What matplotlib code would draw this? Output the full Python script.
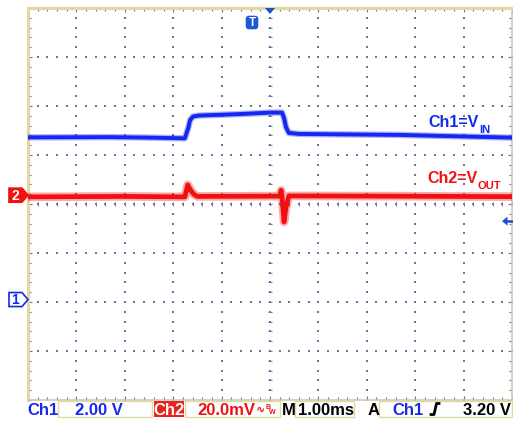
import numpy as np
import matplotlib.pyplot as plt
from matplotlib.patches import Polygon, Rectangle, FancyBboxPatch
from matplotlib.lines import Line2D

# -------------------------------
# scope settings
# -------------------------------
W, H = 513, 421
ch1_scale = 2.00      # V/div
ch1_ground = -1.95    # div from centre
ch2_scale = 20.0      # mV/div
ch2_offset = 0.18     # div from centre
trig_level = 3.20     # V on Ch1

# Ch1 = VIN (V), time in ms, trigger at 0
t_ch1 = [-5.0, -3.3, -2.5, -1.76, -1.69, -1.65, -1.59, -1.47, -0.64, 0.0,
         0.25, 0.29, 0.33, 0.39, 0.6, 2.67, 4.98]
v_ch1 = [6.62, 6.63, 6.61, 6.58, 7.00, 7.33, 7.47, 7.51, 7.57, 7.63,
         7.63, 7.41, 7.04, 6.80, 6.76, 6.72, 6.61]

# Ch2 = VOUT (mV, AC coupled)
t_ch2 = [-5.0, -3.0, -1.76, -1.70, -1.64, -1.57, -1.50, 0.0, 0.20, 0.23,
         0.25, 0.29, 0.33, 0.39, 2.5, 4.98]
mv_ch2 = [-0.7, -0.5, -0.7, 4.2, 2.0, 0.3, -0.5, -0.4, -0.4, 2.0,
          -1.0, -10.9, -5.0, -0.3, -0.4, -0.6]

BLUE = "#1428f0"
RED = "#f01010"
GRID = "#6a72a0"
EDGE = "#e2d9a0"
FONT = ["Liberation Sans", "DejaVu Sans"]

fig = plt.figure(figsize=(W / 100, H / 100), dpi=100)
fig.patch.set_facecolor("white")

# graticule axes: 10 x 8 divisions
ax = fig.add_axes([28 / W, 21 / H, 484 / W, 392 / H])
ax.set_xlim(-5, 5)
ax.set_ylim(-4, 4)
ax.set_xticks(np.arange(-5, 5.01, 1))
ax.set_yticks(np.arange(-4, 4.01, 1))
ax.set_xticks(np.arange(-5, 5.01, 0.2), minor=True)
ax.set_yticks(np.arange(-4, 4.01, 0.2), minor=True)
ax.tick_params(which="both", direction="in", top=True, right=True,
               labelbottom=False, labelleft=False, color=GRID, width=0.8)
ax.tick_params(which="major", length=3)
ax.tick_params(which="minor", length=2)
for side in ["left", "top"]:
    ax.spines[side].set_color(EDGE)
    ax.spines[side].set_linewidth(2.2)
for side in ["right", "bottom"]:
    ax.spines[side].set_color("#cfcbb0")
    ax.spines[side].set_linewidth(1.2)

# dotted grid lines
minor_x = np.arange(-5, 5.01, 0.2)
minor_y = np.arange(-4, 4.01, 0.2)
for gx in range(-4, 5):
    ax.scatter(np.full(len(minor_y), gx), minor_y, s=1.3, c=GRID, marker="s", lw=0, zorder=1)
for gy in range(-3, 4):
    ax.scatter(minor_x, np.full(len(minor_x), gy), s=1.3, c=GRID, marker="s", lw=0, zorder=1)
# centre cross ticks
ax.plot(np.zeros(len(minor_y)), minor_y, ls="none", marker="_", ms=3, mew=0.7, color=GRID, zorder=1)
ax.plot(minor_x, np.zeros(len(minor_x)), ls="none", marker="|", ms=3, mew=0.7, color=GRID, zorder=1)

# traces (fuzzy band for noise, solid core)
y1 = np.array(v_ch1) / ch1_scale + ch1_ground
y2 = np.array(mv_ch2) / ch2_scale + ch2_offset
ax.plot(t_ch1, y1, color=BLUE, lw=4.6, alpha=0.35, solid_joinstyle="round", zorder=3)
ax.plot(t_ch1, y1, color=BLUE, lw=2.8, zorder=4)
ax.plot(t_ch2, y2, color=RED, lw=6.2, alpha=0.35, solid_joinstyle="round", zorder=3)
ax.plot(t_ch2, y2, color=RED, lw=3.4, zorder=4)

# overlay in pixel coordinates for the scope chrome
ov = fig.add_axes([0, 0, 1, 1], zorder=5)
ov.set_xlim(0, W)
ov.set_ylim(H, 0)
ov.axis("off")
ov.patch.set_alpha(0)


def px_y(div):
    return H - ax.transData.transform((0, div))[1]


def px_x(t):
    return ax.transData.transform((t, 0))[0]


# channel labels
t1 = ov.text(428, 127, "Ch1=V", color=BLUE, fontsize=11.5, fontweight="bold", family=FONT)
ov.annotate("IN", xy=(1, 0), xycoords=t1, xytext=(0.5, -2.5), textcoords="offset points",
            color=BLUE, fontsize=8, fontweight="bold", family=FONT, va="baseline")
t2 = ov.text(427, 183, "Ch2=V", color=RED, fontsize=11.5, fontweight="bold", family=FONT)
ov.annotate("OUT", xy=(1, 0), xycoords=t2, xytext=(0.5, -2.5), textcoords="offset points",
            color=RED, fontsize=8, fontweight="bold", family=FONT, va="baseline")

# channel ground markers
for off, face, edge, txt in [(ch2_offset, RED, RED, "2"), (ch1_ground, "white", BLUE, "1")]:
    yc = px_y(off)
    ov.add_patch(Polygon([(9, yc - 7), (22, yc - 7), (28, yc), (22, yc + 7), (9, yc + 7)],
                         closed=True, facecolor=face, edgecolor=edge, lw=1.2))
    ov.text(15.5, yc + 0.5, txt, color="white" if face != "white" else BLUE, fontsize=10,
            fontweight="bold", family=FONT, ha="center", va="center")

# trigger position / level markers
xt = px_x(0)
ov.add_patch(Polygon([(xt - 5, 8), (xt + 5, 8), (xt, 14)], closed=True, facecolor="#1a50d0", lw=0))
ov.add_patch(FancyBboxPatch((247, 17), 10, 11, boxstyle="round,pad=0.6,rounding_size=2.5",
                            facecolor="#1a58d8", edgecolor="#1a58d8"))
ov.text(252, 23, "T", color="white", fontsize=8.5, fontweight="bold", family=FONT,
        ha="center", va="center")
yt = px_y(trig_level / ch1_scale + ch1_ground)
ov.add_patch(Polygon([(502, yt), (507.5, yt - 4.5), (507.5, yt + 4.5)], closed=True,
                     facecolor="#1a50d0", lw=0))
ov.add_line(Line2D([507, 513], [yt, yt], color="#1a50d0", lw=1.8))

# status bar
for x0, x1 in [(58, 152), (185, 280), (295, 354), (379, 512)]:
    ov.add_patch(Rectangle((x0, 401), x1 - x0, 16, facecolor="white", edgecolor=EDGE, lw=1))
ov.add_patch(Rectangle((154, 401), 30, 16, facecolor="#e8231c", lw=0))

bar = dict(fontsize=12, fontweight="bold", family=FONT, va="baseline")
ov.text(27, 415, "Ch1", color=BLUE, **bar)
ov.text(75, 415, "2.00 V", color=BLUE, **bar)
ov.text(169, 415, "Ch2", color="white", ha="center", **bar)
ov.text(197, 415, "20.0mV", color=RED, **bar)
ov.text(256, 413, "\u223f", color=RED, fontsize=8, fontweight="bold", family=FONT, va="baseline")
ov.text(265, 409, "B", color=RED, fontsize=5, fontweight="bold", family=FONT, va="baseline")
ov.text(269, 414, "W", color=RED, fontsize=5, fontweight="bold", family=FONT, va="baseline")
ov.text(282, 415, "M", color="black", **bar)
ov.text(298, 415, "1.00ms", color="black", **bar)
ov.text(368, 415, "A", color="black", **bar)
ov.text(392, 415, "Ch1", color=BLUE, **bar)
ov.add_line(Line2D([431, 434, 436.5, 439], [414.5, 414.5, 403.5, 403.5], color="black", lw=2))
ov.text(463, 415, "%.2f V" % trig_level, color="black", **bar)

fig.savefig("out.png", dpi=100)
